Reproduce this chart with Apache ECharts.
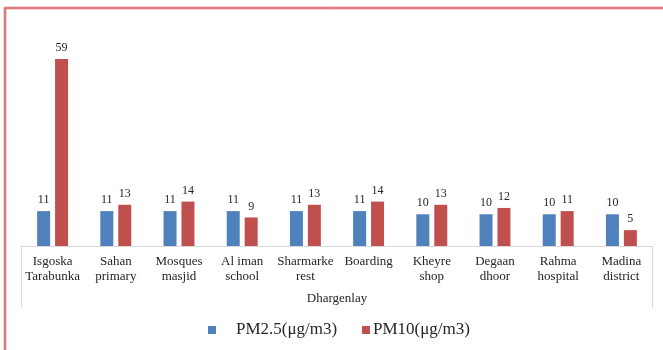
<!DOCTYPE html>
<html>
<head>
<meta charset="utf-8">
<script src="https://cdn.jsdelivr.net/npm/echarts@6/dist/echarts.min.js"></script>
<style>
  html, body { margin: 0; padding: 0; background: #fff; }
  #chart { width: 663px; height: 350px; }
</style>
</head>
<body>
<div id="chart"></div>
<script>
// Sampling sites in Dhargenlay
const sites = [
  'Isgoska\nTarabunka', 'Sahan\nprimary', 'Mosques\nmasjid', 'Al iman\nschool',
  'Sharmarke\nrest', 'Boarding', 'Kheyre\nshop', 'Degaan\ndhoor',
  'Rahma\nhospital', 'Madina\ndistrict'
];
const groupLabel = ['Dhargenlay'];
const pm25 = [11, 11, 11, 11, 11, 11, 10, 10, 10, 10];
const pm10 = [59, 13, 14, 9, 13, 14, 13, 12, 11, 5];
const seriesNames = ['PM2.5(μg/m3)', 'PM10(μg/m3)'];

const FONT = '"Liberation Serif", "Times New Roman", serif';
const GRID = { left: 21, right: 10, top: 24, bottom: 104 };
const W = 663, H = 350;
const axisY = H - GRID.bottom;      // category axis line
const boxBottom = 308;              // lower edge of the two-level label box

const chart = echarts.init(document.getElementById('chart'), null, { renderer: 'canvas' });

const labelStyle = {
  show: true, position: 'top', distance: 5,
  color: '#262626', fontFamily: FONT, fontSize: 12
};

chart.setOption({
  animation: false,
  backgroundColor: '#fff',
  grid: GRID,
  xAxis: [{
    type: 'category',
    data: sites,
    axisLine: { show: true, lineStyle: { color: '#d9d9d9', width: 1 } },
    axisTick: { show: false },
    axisLabel: {
      interval: 0, margin: 8, color: '#262626',
      fontFamily: FONT, fontSize: 13, lineHeight: 15
    }
  }, {
    type: 'category',
    data: groupLabel,
    position: 'bottom',
    offset: 37,
    axisLine: { show: false },
    axisTick: { show: false },
    axisLabel: {
      margin: 8, color: '#262626',
      fontFamily: FONT, fontSize: 13, lineHeight: 15
    }
  }],
  yAxis: {
    type: 'value', min: 0, max: 70, show: false,
    splitLine: { show: false }
  },
  legend: [{
    data: [seriesNames[0]],
    left: 208, top: 320, padding: 0,
    icon: 'rect', itemWidth: 8, itemHeight: 8,
    textStyle: { fontFamily: FONT, fontSize: 17, color: '#262626', lineHeight: 20, padding: [0, 0, 0, 15] }
  }, {
    data: [seriesNames[1]],
    left: 362, top: 320, padding: 0,
    icon: 'rect', itemWidth: 8, itemHeight: 8,
    textStyle: { fontFamily: FONT, fontSize: 17, color: '#262626', lineHeight: 20, padding: [0, 0, 0, -2] }
  }],
  series: [{
    name: seriesNames[0],
    type: 'bar',
    data: pm25,
    barWidth: 13,
    barGap: '38%',
    itemStyle: { color: '#4f81bd' },
    label: labelStyle
  }, {
    name: seriesNames[1],
    type: 'bar',
    data: pm10,
    barWidth: 13,
    barGap: '38%',
    itemStyle: { color: '#c0504d' },
    label: labelStyle
  }],
  graphic: [
    // side walls of the two-level category box
    { type: 'line', silent: true,
      shape: { x1: GRID.left + 0.5, y1: axisY, x2: GRID.left + 0.5, y2: boxBottom },
      style: { stroke: '#d9d9d9', lineWidth: 1 } },
    { type: 'line', silent: true,
      shape: { x1: W - GRID.right - 0.5, y1: axisY, x2: W - GRID.right - 0.5, y2: boxBottom },
      style: { stroke: '#d9d9d9', lineWidth: 1 } },
    // outer frame
    { type: 'rect', silent: true,
      shape: { x: 5, y: 8, width: 800, height: 500 },
      style: { fill: 'none', stroke: '#eeaaad', lineWidth: 3 } },
    { type: 'rect', silent: true,
      shape: { x: 5, y: 8, width: 800, height: 500 },
      style: { fill: 'none', stroke: '#cc4d52', lineWidth: 1 } }
  ]
});
</script>
</body>
</html>
